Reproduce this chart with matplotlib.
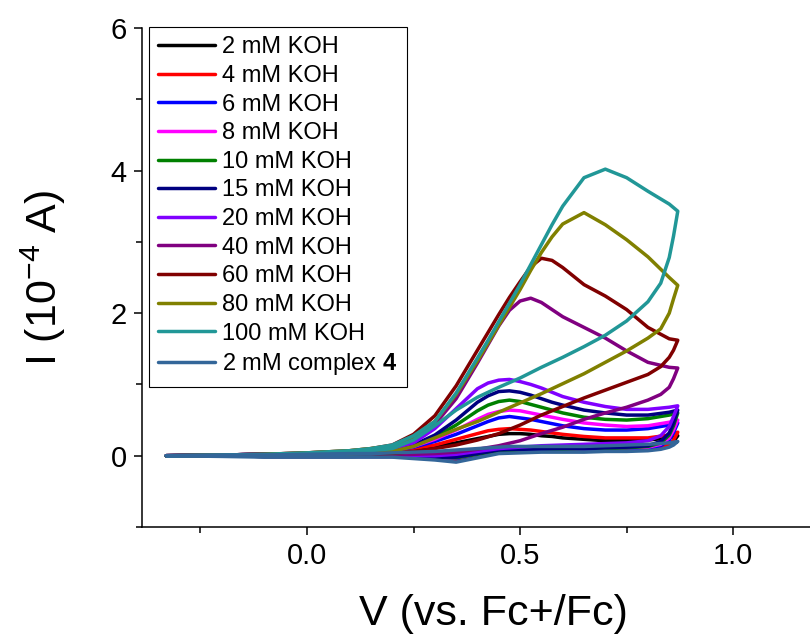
import numpy as np
import matplotlib
matplotlib.use("Agg")
import matplotlib.pyplot as plt
from matplotlib.ticker import MultipleLocator, FixedLocator

plt.rcParams['font.family'] = ['Liberation Sans', 'DejaVu Sans']
plt.rcParams['mathtext.fontset'] = 'custom'
plt.rcParams['mathtext.rm'] = 'Liberation Sans'
plt.rcParams['mathtext.bf'] = 'Liberation Sans:bold'

# ---------------------------------------------------------
# CV data (potential in V vs. Fc+/Fc, current in 1e-4 A)
# ---------------------------------------------------------
V_FWD = [-0.33, -0.2, -0.1, 0.0, 0.1, 0.15, 0.2, 0.25, 0.3, 0.35, 0.4, 0.425,
         0.45, 0.475, 0.5, 0.525, 0.55, 0.575, 0.6, 0.65, 0.7, 0.75, 0.8, 0.85, 0.87]
V_REV = [0.87, 0.86, 0.85, 0.83, 0.8, 0.75, 0.7, 0.65, 0.6, 0.55, 0.5,
         0.45, 0.4, 0.35, 0.3, 0.25, 0.2, 0.1, 0.0, -0.1, -0.2, -0.33]

labels = ["2 mM KOH", "4 mM KOH", "6 mM KOH", "8 mM KOH", "10 mM KOH",
          "15 mM KOH", "20 mM KOH", "40 mM KOH", "60 mM KOH", "80 mM KOH",
          "100 mM KOH", r"2 mM complex $\mathbf{4}$"]
colors = ["#000000", "#FF0000", "#0000FF", "#FF00FF", "#008000", "#000080",
          "#8000FF", "#800080", "#800000", "#808000", "#219797", "#336699"]

# forward (anodic) sweeps
i_fwd = [
    [0.0, 0.01, 0.02, 0.03, 0.04, 0.05, 0.06, 0.09, 0.13, 0.18, 0.24, 0.27, 0.30, 0.31, 0.31, 0.30, 0.28, 0.27, 0.25, 0.23, 0.21, 0.21, 0.22, 0.25, 0.28],
    [0.0, 0.01, 0.02, 0.03, 0.04, 0.05, 0.07, 0.10, 0.15, 0.23, 0.31, 0.35, 0.37, 0.38, 0.37, 0.36, 0.34, 0.32, 0.30, 0.27, 0.25, 0.25, 0.25, 0.29, 0.33],
    [0.0, 0.01, 0.02, 0.03, 0.04, 0.05, 0.07, 0.12, 0.20, 0.30, 0.42, 0.48, 0.53, 0.55, 0.53, 0.51, 0.48, 0.45, 0.42, 0.38, 0.36, 0.36, 0.38, 0.43, 0.46],
    [0.0, 0.01, 0.02, 0.03, 0.04, 0.05, 0.08, 0.13, 0.23, 0.36, 0.51, 0.58, 0.62, 0.64, 0.63, 0.60, 0.57, 0.54, 0.51, 0.46, 0.43, 0.41, 0.42, 0.47, 0.50],
    [0.0, 0.01, 0.02, 0.03, 0.04, 0.06, 0.08, 0.14, 0.26, 0.43, 0.63, 0.71, 0.76, 0.78, 0.76, 0.72, 0.68, 0.64, 0.60, 0.54, 0.51, 0.50, 0.52, 0.57, 0.60],
    [0.0, 0.01, 0.02, 0.03, 0.04, 0.06, 0.09, 0.15, 0.29, 0.50, 0.75, 0.84, 0.90, 0.91, 0.89, 0.85, 0.80, 0.75, 0.71, 0.64, 0.60, 0.57, 0.57, 0.61, 0.64],
    [0.0, 0.01, 0.02, 0.03, 0.05, 0.07, 0.10, 0.18, 0.38, 0.66, 0.94, 1.02, 1.06, 1.07, 1.04, 1.00, 0.95, 0.89, 0.83, 0.75, 0.69, 0.65, 0.65, 0.68, 0.70],
    [0.0, 0.01, 0.02, 0.04, 0.06, 0.08, 0.12, 0.24, 0.44, 0.80, 1.30, 1.56, 1.82, 2.04, 2.17, 2.21, 2.15, 2.05, 1.95, 1.80, 1.65, 1.47, 1.31, 1.24, 1.23],
    [0.0, 0.01, 0.02, 0.04, 0.07, 0.10, 0.15, 0.30, 0.56, 0.98, 1.48, 1.73, 1.98, 2.22, 2.44, 2.65, 2.77, 2.74, 2.64, 2.40, 2.24, 2.05, 1.80, 1.64, 1.62],
    [0.0, 0.01, 0.02, 0.04, 0.07, 0.10, 0.14, 0.27, 0.48, 0.86, 1.33, 1.58, 1.83, 2.08, 2.33, 2.60, 2.85, 3.07, 3.25, 3.41, 3.24, 3.03, 2.79, 2.50, 2.39],
    [0.0, 0.01, 0.02, 0.04, 0.07, 0.10, 0.15, 0.28, 0.48, 0.88, 1.37, 1.62, 1.88, 2.14, 2.40, 2.68, 2.96, 3.24, 3.50, 3.90, 4.02, 3.90, 3.71, 3.53, 3.43],
    [0.0, 0.01, 0.01, 0.02, 0.03, 0.03, 0.04, 0.05, 0.06, 0.08, 0.10, 0.11, 0.12, 0.13, 0.13, 0.13, 0.13, 0.13, 0.13, 0.13, 0.14, 0.15, 0.16, 0.18, 0.20],
]

# reverse (cathodic) sweeps
i_rev = [
    [0.28, 0.20, 0.15, 0.11, 0.09, 0.08, 0.08, 0.07, 0.07, 0.07, 0.06, 0.05, 0.00, -0.04, -0.03, -0.02, -0.01, -0.01, -0.01, -0.01, 0.0, 0.0],
    [0.33, 0.22, 0.16, 0.11, 0.09, 0.08, 0.08, 0.07, 0.07, 0.07, 0.06, 0.05, 0.00, -0.06, -0.04, -0.02, -0.01, -0.01, -0.01, -0.01, 0.0, 0.0],
    [0.46, 0.32, 0.22, 0.14, 0.11, 0.10, 0.09, 0.09, 0.08, 0.08, 0.07, 0.06, 0.01, -0.04, -0.03, -0.02, -0.01, -0.01, -0.01, -0.01, 0.0, 0.0],
    [0.50, 0.36, 0.25, 0.16, 0.12, 0.11, 0.10, 0.10, 0.09, 0.09, 0.08, 0.07, 0.02, -0.03, -0.03, -0.02, -0.01, -0.01, -0.01, -0.01, 0.0, 0.0],
    [0.60, 0.42, 0.29, 0.18, 0.13, 0.11, 0.10, 0.10, 0.09, 0.09, 0.08, 0.07, 0.02, -0.03, -0.02, -0.01, 0.00, -0.01, -0.01, -0.01, 0.0, 0.0],
    [0.64, 0.46, 0.32, 0.20, 0.14, 0.12, 0.11, 0.10, 0.10, 0.09, 0.09, 0.08, 0.03, -0.02, -0.02, -0.01, 0.00, -0.01, -0.01, -0.01, 0.0, 0.0],
    [0.70, 0.55, 0.41, 0.28, 0.21, 0.18, 0.17, 0.16, 0.15, 0.14, 0.12, 0.10, 0.06, 0.02, 0.00, 0.00, 0.01, 0.00, 0.00, 0.00, 0.0, 0.0],
    [1.23, 1.08, 0.96, 0.86, 0.78, 0.68, 0.60, 0.51, 0.40, 0.31, 0.21, 0.14, 0.09, 0.05, 0.03, 0.02, 0.01, 0.01, 0.01, 0.00, 0.0, 0.0],
    [1.62, 1.48, 1.38, 1.25, 1.14, 1.03, 0.92, 0.81, 0.69, 0.57, 0.43, 0.31, 0.22, 0.15, 0.10, 0.06, 0.03, 0.01, 0.01, 0.00, 0.0, 0.0],
    [2.39, 2.20, 2.00, 1.78, 1.65, 1.47, 1.31, 1.15, 1.01, 0.87, 0.74, 0.61, 0.48, 0.37, 0.25, 0.13, 0.06, 0.02, 0.01, 0.00, 0.0, 0.0],
    [3.43, 3.08, 2.78, 2.42, 2.16, 1.89, 1.69, 1.53, 1.38, 1.24, 1.09, 0.96, 0.82, 0.64, 0.42, 0.22, 0.10, 0.04, 0.02, 0.01, 0.0, 0.0],
    [0.20, 0.15, 0.12, 0.09, 0.07, 0.06, 0.06, 0.05, 0.05, 0.05, 0.04, 0.03, -0.03, -0.09, -0.06, -0.04, -0.02, -0.02, -0.02, -0.02, -0.01, 0.0],
]

# ---------------------------------------------------------
# Plot
# ---------------------------------------------------------
fig = plt.figure(figsize=(8.1, 6.34), dpi=100)
ax = fig.add_axes([142 / 810, 1 - 527 / 634, 702 / 810, 499 / 634])

for lab, col, fwd, rev in zip(labels, colors, i_fwd, i_rev):
    ax.plot(V_FWD + V_REV, fwd + rev, color=col, lw=2.5, label=lab,
            solid_joinstyle="round", solid_capstyle="round")

ax.set_xlim(-0.387, 1.26)
ax.set_ylim(-1, 6)

ax.spines["top"].set_visible(False)
ax.spines["right"].set_visible(False)
for s in ("left", "bottom"):
    ax.spines[s].set_linewidth(1.1)

ax.xaxis.set_major_locator(FixedLocator([0.0, 0.5, 1.0]))
ax.set_xticklabels(["0.0", "0.5", "1.0"])
ax.xaxis.set_minor_locator(MultipleLocator(0.25))
ax.yaxis.set_major_locator(FixedLocator([0, 2, 4, 6]))
ax.yaxis.set_minor_locator(MultipleLocator(1))
ax.tick_params(which="both", direction="out", width=1.1, labelsize=21)
ax.tick_params(which="major", length=6, pad=5)
ax.tick_params(which="minor", length=4)

ax.set_xlabel("V (vs. Fc+/Fc)", fontsize=31)
ax.set_ylabel("I (10$^{-4}$ A)", fontsize=31)
ax.xaxis.set_label_coords(0.5, -0.135)
ax.yaxis.set_label_coords(-0.105, 0.5)

leg = ax.legend(loc="upper left", bbox_to_anchor=(149 / 810, 1 - 27 / 634),
                bbox_transform=fig.transFigure, fontsize=17, frameon=True,
                fancybox=False, edgecolor="black", framealpha=1,
                borderaxespad=0, handlelength=2.4, handletextpad=0.3,
                labelspacing=0.28, borderpad=0.4)
leg.get_frame().set_linewidth(0.8)

fig.savefig("out.png", dpi=100)
